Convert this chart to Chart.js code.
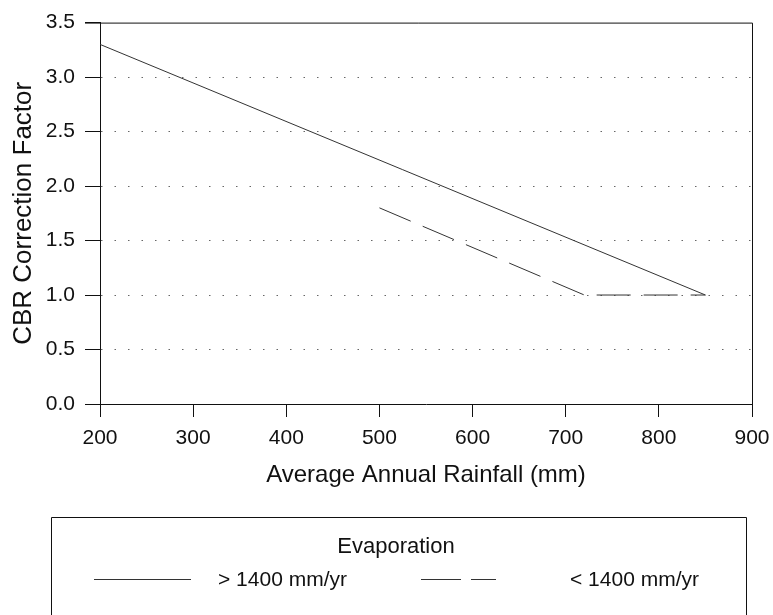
<!DOCTYPE html>
<html>
<head>
<meta charset="utf-8">
<script src="https://cdn.jsdelivr.net/npm/chart.js@4"></script>
<style>
  html, body { margin: 0; padding: 0; background: #fff; }
  #wrap { position: relative; width: 773px; height: 615px; }
</style>
</head>
<body>
<div id="wrap"><canvas id="cbrChart" width="773" height="615"></canvas></div>
<script>
// Rainfall (mm) vs CBR correction factor, two evaporation regimes
const rainfallHigh = [200, 850];
const cbrHigh      = [3.3, 1.0];

const rainfallLow  = [500, 720, 850];
const cbrLow       = [1.8, 1.0, 1.0];

const seriesLabels = ['> 1400 mm/yr', '< 1400 mm/yr'];
const legendTitle  = 'Evaporation';

const xTicks = [200, 300, 400, 500, 600, 700, 800, 900];
const yTicks = [0, 0.5, 1.0, 1.5, 2.0, 2.5, 3.0, 3.5];

const FONT = "'Liberation Sans', Arial, sans-serif";
const INK  = '#111';

const toPoints = (xs, ys) => xs.map((x, i) => ({ x, y: ys[i] }));

// Frame (top/right) and the boxed legend underneath the plot
const framePlugin = {
  id: 'frameAndLegend',
  afterDraw(chart) {
    const { ctx, chartArea: a } = chart;
    ctx.save();
    ctx.strokeStyle = INK;
    ctx.lineWidth = 1;
    ctx.beginPath();
    ctx.moveTo(a.left - 15, a.top + 0.5);
    ctx.lineTo(a.right + 0.5, a.top + 0.5);
    ctx.lineTo(a.right + 0.5, a.bottom);
    ctx.stroke();

    // legend box, runs off the bottom edge
    ctx.beginPath();
    ctx.moveTo(51.5, 620);
    ctx.lineTo(51.5, 517.5);
    ctx.lineTo(746.5, 517.5);
    ctx.lineTo(746.5, 620);
    ctx.stroke();

    ctx.fillStyle = INK;
    ctx.font = `22px ${FONT}`;
    ctx.textBaseline = 'middle';
    ctx.textAlign = 'center';
    ctx.fillText(legendTitle, 396, 547);

    const rows = [
      { x0: 94, x1: 191, tx: 218, ds: chart.data.datasets[0] },
      { x0: 421, x1: 496, tx: 570, ds: chart.data.datasets[1], dash: [40, 10] },
    ];
    ctx.font = `21px ${FONT}`;
    ctx.textAlign = 'left';
    rows.forEach((r, i) => {
      ctx.strokeStyle = r.ds.borderColor;
      ctx.setLineDash(r.dash || []);
      ctx.beginPath();
      ctx.moveTo(r.x0, 579.5);
      ctx.lineTo(r.x1, 579.5);
      ctx.stroke();
      ctx.setLineDash([]);
      ctx.fillText(seriesLabels[i], r.tx, 580);
    });
    ctx.restore();
  },
};

new Chart(document.getElementById('cbrChart'), {
  type: 'line',
  data: {
    datasets: [
      {
        label: seriesLabels[0],
        data: toPoints(rainfallHigh, cbrHigh),
        borderColor: '#333',
        borderWidth: 1,
        pointRadius: 0,
        tension: 0,
      },
      {
        label: seriesLabels[1],
        data: toPoints(rainfallLow, cbrLow),
        borderColor: '#333',
        borderWidth: 1,
        borderDash: [34, 13],
        pointRadius: 0,
        tension: 0,
      },
    ],
  },
  options: {
    responsive: false,
    animation: false,
    events: [],
    layout: { padding: { top: 21, right: 21, bottom: 125, left: 0 } },
    plugins: { legend: { display: false }, tooltip: { enabled: false } },
    scales: {
      x: {
        type: 'linear',
        min: 200,
        max: 900,
        afterBuildTicks: s => { s.ticks = xTicks.map(v => ({ value: v })); },
        afterFit: s => { s.height = 86; s.paddingLeft = 0; s.paddingRight = 0; },
        ticks: { color: INK, font: { family: FONT, size: 21 }, padding: 9 },
        grid: { drawOnChartArea: false, tickLength: 13, tickColor: INK },
        border: { color: INK, width: 1 },
        title: {
          display: true,
          text: 'Average Annual Rainfall (mm)',
          color: INK,
          font: { family: FONT, size: 24 },
          padding: { top: 0, bottom: 0 },
        },
      },
      y: {
        type: 'linear',
        min: 0,
        max: 3.5,
        afterBuildTicks: s => { s.ticks = yTicks.map(v => ({ value: v })); },
        afterFit: s => { s.width = 100; },
        ticks: {
          color: INK,
          font: { family: FONT, size: 21 },
          padding: 10,
          callback: v => v.toFixed(1),
        },
        grid: {
          color: c => (c.tick && (c.tick.value === 0 || c.tick.value === 3.5)) ? 'rgba(0,0,0,0)' : '#666',
          tickLength: 15,
          tickColor: INK,
          tickBorderDash: [],
        },
        border: { color: INK, width: 1, dash: [1.5, 12] },
        title: {
          display: true,
          text: 'CBR Correction Factor',
          color: INK,
          font: { family: FONT, size: 26 },
          padding: { top: 8, bottom: 0 },
        },
      },
    },
  },
  plugins: [framePlugin],
});
</script>
</body>
</html>
